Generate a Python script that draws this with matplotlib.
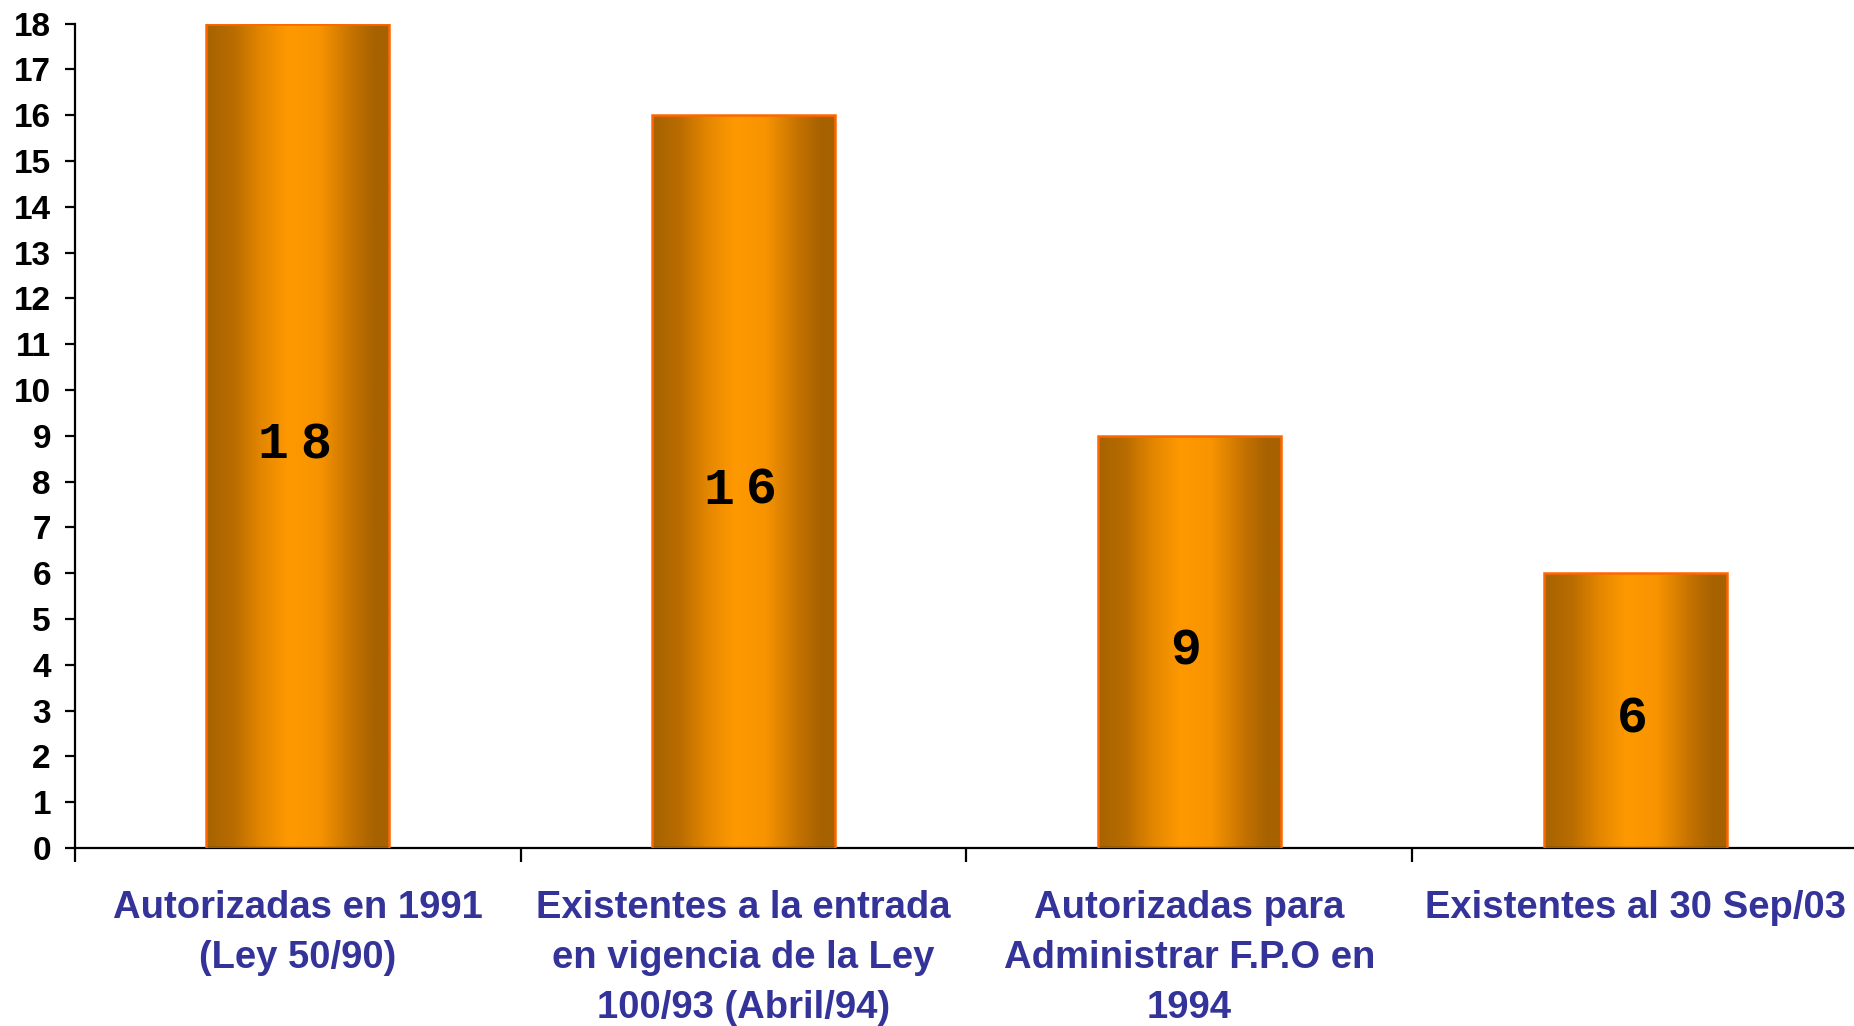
import matplotlib
matplotlib.use("Agg")
import matplotlib.pyplot as plt
import numpy as np
from matplotlib.colors import LinearSegmentedColormap
from matplotlib.ticker import FixedLocator, NullFormatter, FixedFormatter

categories = [
    "Autorizadas en 1991\n(Ley 50/90)",
    "Existentes a la entrada\nen vigencia de la Ley\n100/93 (Abril/94)",
    "Autorizadas para\nAdministrar F.P.O en\n1994",
    "Existentes al 30 Sep/03",
]
values = [18, 16, 9, 6]
yticks = list(range(0, 19))

fig = plt.figure(figsize=(18.54, 10.26), dpi=100)
ax = fig.add_axes([0.0402, 0.1735, 0.9598, 0.8035])

x = np.arange(len(values))
bars = ax.bar(x, values, width=0.41, facecolor="none", edgecolor="#FF6600",
              linewidth=1.8, zorder=3)

cmap = LinearSegmentedColormap.from_list("barg", [
    (0.0, "#A66300"), (0.15, "#B96C00"), (0.3, "#E38600"), (0.45, "#FF9900"),
    (0.62, "#F89400"), (0.8, "#C47200"), (0.92, "#A86200"), (1.0, "#A66200")])
grad = np.linspace(0, 1, 256).reshape(1, -1)
for b in bars:
    bx, by, bw, bh = b.get_x(), b.get_y(), b.get_width(), b.get_height()
    im = ax.imshow(grad, cmap=cmap, aspect="auto", extent=(bx, bx + bw, by, by + bh),
                   zorder=2, interpolation="bicubic")
    im.set_clip_path(b)

# value labels: monospace digits with wide character spacing
step = 30.6  # points between digit centres
for xi, v in zip(x, values):
    s = str(v)
    n = len(s)
    for i, ch in enumerate(s):
        ax.annotate(ch, xy=(xi, v / 2), xytext=((i - (n - 1) / 2) * step - 2.5, -16),
                    textcoords="offset points", ha="center", va="baseline",
                    fontsize=37, fontweight="bold", family="Liberation Mono",
                    color="black", zorder=4)

ax.set_xlim(-0.5, 3.49)
ax.set_ylim(0, 18)

for s in ["top", "right"]:
    ax.spines[s].set_visible(False)
for s in ["left", "bottom"]:
    ax.spines[s].set_linewidth(1.6)
    ax.spines[s].set_color("black")

ax.set_yticks(yticks)
ax.set_yticklabels([str(t) for t in yticks], fontsize=24, fontweight="bold",
                   family="Liberation Sans")
ax.tick_params(axis="y", direction="out", length=7, width=1.6, pad=10)

ax.xaxis.set_major_locator(FixedLocator([-0.5, 0.5, 1.5, 2.5]))
ax.xaxis.set_major_formatter(NullFormatter())
ax.xaxis.set_minor_locator(FixedLocator(list(x)))
ax.xaxis.set_minor_formatter(FixedFormatter(categories))
ax.tick_params(axis="x", which="major", direction="out", length=10, width=1.6)
ax.tick_params(axis="x", which="minor", direction="in", length=8, width=1.6, pad=30)
for lab in ax.xaxis.get_minorticklabels():
    lab.set_fontsize(27.5)
    lab.set_fontweight("bold")
    lab.set_family("Liberation Sans")
    lab.set_color("#333399")
    lab.set_linespacing(1.5)
    lab.set_va("top")
    lab.set_ha("center")

fig.savefig("out.png", dpi=100)
